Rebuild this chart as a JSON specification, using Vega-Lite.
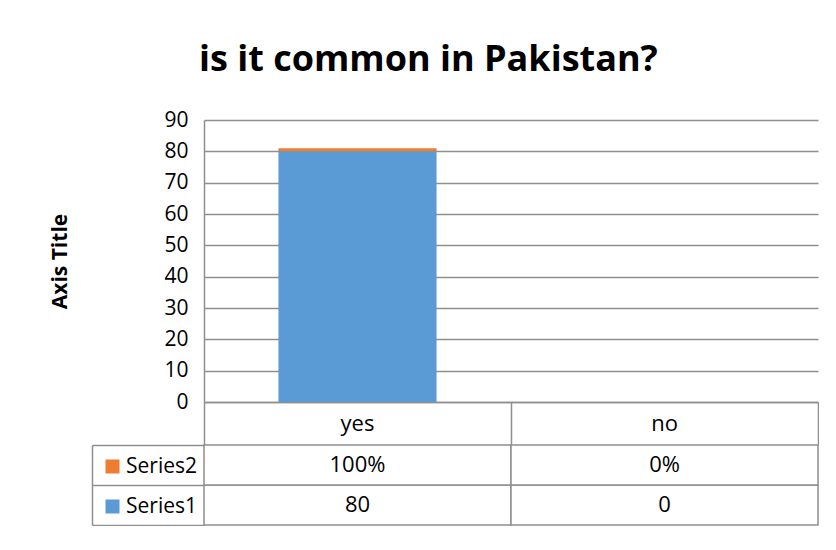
{
  "$schema": "https://vega.github.io/schema/vega-lite/v6.json",
  "padding": {"left": 49, "top": 42, "right": 0, "bottom": 0},
  "background": "white",
  "title": {"text": "is it common in Pakistan?", "font": "Open Sans", "fontSize": 36, "fontWeight": "bold", "color": "#000000", "anchor": "middle", "offset": 30, "dx": -6},
  "datasets": {
    "d": [
      {"category": "yes", "series": "Series1", "value": 80},
      {"category": "yes", "series": "Series2", "value": 1},
      {"category": "no", "series": "Series1", "value": 0},
      {"category": "no", "series": "Series2", "value": 0}
    ]
  },
  "spacing": 43,
  "bounds": "flush",
  "resolve": {"scale": {"x": "independent", "y": "independent"}},
  "vconcat": [
    {
      "width": 614,
      "height": 282,
      "data": {"name": "d"},
      "mark": {"type": "bar", "width": {"band": 0.515}},
      "encoding": {
        "x": {
          "field": "category", "type": "nominal", "sort": ["yes", "no"],
          "scale": {"paddingInner": 0, "paddingOuter": 0},
          "axis": {
            "title": null, "orient": "bottom", "labelAngle": 0,
            "labelFontSize": 22, "labelColor": "#000000", "labelFont": "Open Sans",
            "labelPadding": -22, "labelBaseline": "middle",
            "ticks": true, "tickSize": 43, "tickColor": "#8f8f8f", "tickWidth": 1.5,
            "bandPosition": 1, "tickExtra": true,
            "domainColor": "#8f8f8f", "domainWidth": 1.5, "grid": false
          }
        },
        "y": {
          "field": "value", "type": "quantitative", "stack": "zero",
          "scale": {"domain": [0, 90]},
          "axis": {
            "title": "Axis Title", "titleFont": "Open Sans", "titleFontSize": 21, "titleFontWeight": "bold", "titleColor": "#000000",
            "titlePadding": 93,
            "values": [0, 10, 20, 30, 40, 50, 60, 70, 80, 90],
            "labelFontSize": 21, "labelColor": "#000000", "labelFont": "Open Sans", "labelPadding": 16,
            "ticks": false, "domainColor": "#8f8f8f", "domainWidth": 1.5,
            "grid": true, "gridColor": "#8f8f8f", "gridWidth": 1.5
          }
        },
        "color": {
          "field": "series", "type": "nominal",
          "scale": {"domain": ["Series2", "Series1"], "range": ["#ED7D31", "#5B9BD5"]},
          "legend": {
            "title": null, "orient": "none", "legendX": -102, "legendY": 336,
            "symbolType": "square", "symbolSize": 196, "symbolStrokeWidth": 0,
            "labelFontSize": 21, "labelColor": "#000000", "labelFont": "Open Sans",
            "labelOffset": 3, "rowPadding": 18, "direction": "vertical"
          }
        },
        "order": {"field": "series", "sort": "ascending"}
      }
    },
    {
      "width": 614,
      "height": 80,
      "data": {"name": "d"},
      "encoding": {
        "x": {
          "field": "category", "type": "nominal", "sort": ["yes", "no"],
          "scale": {"paddingInner": 0, "paddingOuter": 0}, "axis": null
        },
        "y": {
          "field": "series", "type": "nominal", "sort": ["Series2", "Series1"],
          "scale": {"paddingInner": 0, "paddingOuter": 0},
          "axis": {
            "orient": "left", "offset": 112, "labels": false, "title": null,
            "domainColor": "#8f8f8f", "domainWidth": 1.5,
            "ticks": true, "tickSize": -112, "tickColor": "#8f8f8f", "tickWidth": 1.5,
            "bandPosition": 1, "tickExtra": true, "grid": false
          }
        }
      },
      "layer": [
        {"mark": {"type": "rect", "fill": "white", "stroke": "#8f8f8f", "strokeWidth": 1.5}},
        {
          "transform": [{"filter": "datum.series === 'Series2'"}],
          "mark": {"type": "text", "fontSize": 22, "font": "Open Sans", "color": "#000000"},
          "encoding": {"text": {"field": "value", "type": "quantitative", "format": ".0%"}}
        },
        {
          "transform": [{"filter": "datum.series === 'Series1'"}],
          "mark": {"type": "text", "fontSize": 22, "font": "Open Sans", "color": "#000000"},
          "encoding": {"text": {"field": "value", "type": "quantitative", "format": "d"}}
        }
      ]
    }
  ],
  "config": {"view": {"stroke": null}, "font": "Open Sans"}
}
